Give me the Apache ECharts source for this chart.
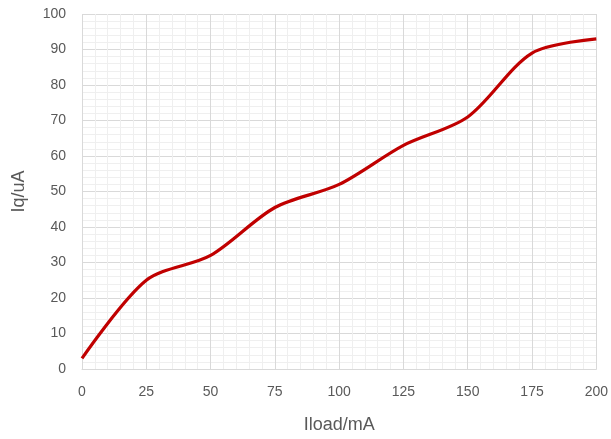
<!DOCTYPE html>
<html><head><meta charset="utf-8">
<script src="https://cdn.jsdelivr.net/npm/echarts@6/dist/echarts.min.js"></script>
<style>html,body{margin:0;padding:0;background:#fff}#c{width:611px;height:439px}</style>
</head><body><div id="c"></div>
<script>
const xValues = [0, 25, 50, 75, 100, 125, 150, 175, 200];
const iqValues = [3, 25, 32, 45.5, 52, 63, 71, 89, 93];
const xTitle = 'Iload/mA';
const yTitle = 'Iq/uA';

const chart = echarts.init(document.getElementById('c'), null, {renderer: 'canvas'});
const font = 'Liberation Sans';
chart.setOption({
  animation: false,
  backgroundColor: '#fff',
  grid: {left: 82, right: 14, top: 14, bottom: 69, containLabel: false},
  xAxis: {
    type: 'value', min: 0, max: 200, interval: 25,
    name: xTitle, nameLocation: 'middle', nameGap: 47,
    nameTextStyle: {fontFamily: font, fontSize: 18, color: '#595959'},
    axisLine: {show: true, lineStyle: {color: '#d9d9d9', width: 1}},
    axisTick: {show: false},
    axisLabel: {fontFamily: font, fontSize: 14, color: '#595959', margin: 16},
    splitLine: {show: true, lineStyle: {color: '#d9d9d9', width: 1}},
    minorTick: {show: false, splitNumber: 5},
    minorSplitLine: {show: true, lineStyle: {color: '#efefef', width: 1}}
  },
  yAxis: {
    type: 'value', min: 0, max: 100, interval: 10,
    name: yTitle, nameLocation: 'middle', nameGap: 54, nameRotate: 90,
    nameTextStyle: {fontFamily: font, fontSize: 18, color: '#595959'},
    axisLine: {show: false},
    axisTick: {show: false},
    axisLabel: {fontFamily: font, fontSize: 14, color: '#595959', margin: 16},
    splitLine: {show: true, lineStyle: {color: '#d9d9d9', width: 1}},
    minorTick: {show: false, splitNumber: 5},
    minorSplitLine: {show: true, lineStyle: {color: '#efefef', width: 1}}
  },
  series: [{
    type: 'line',
    data: xValues.map((x, i) => [x, iqValues[i]]),
    smooth: 0.3,
    showSymbol: false,
    lineStyle: {color: '#c00000', width: 3.2}
  }]
});
</script></body></html>
